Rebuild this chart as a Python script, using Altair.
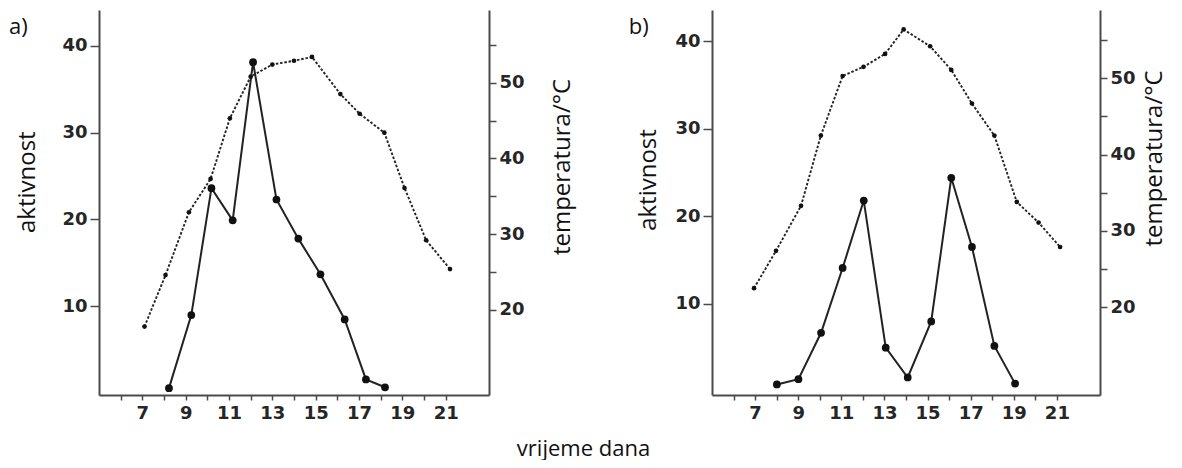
import altair as alt
import pandas as pd

# ---------------- data ----------------
# panel a)
a_act_hour = [8.23, 9.26, 10.19, 11.17, 12.11, 13.19, 14.2, 15.22, 16.34, 17.32, 18.2]
a_act_val = [0.6, 9.0, 23.6, 19.9, 38.1, 22.3, 17.8, 13.7, 8.5, 1.6, 0.7]
a_temp_hour = [7.1, 8.07, 9.15, 10.15, 11.04, 12.0, 13.0, 14.0, 14.83, 16.14, 17.03, 18.17, 19.1, 20.1, 21.2]
a_temp_val = [17.8, 24.6, 32.9, 37.3, 45.3, 50.8, 52.4, 52.9, 53.4, 48.5, 45.9, 43.4, 36.1, 29.2, 25.4]

# panel b)
b_act_hour = [8.01, 9.01, 10.06, 11.06, 12.04, 13.06, 14.08, 15.17, 16.1, 17.06, 18.1, 19.06]
b_act_val = [0.8, 1.4, 6.7, 14.1, 21.8, 5.0, 1.6, 8.0, 24.4, 16.5, 5.2, 0.9]
b_temp_hour = [6.95, 7.97, 9.13, 10.05, 11.06, 12.03, 13.03, 13.89, 15.12, 16.1, 17.06, 18.1, 19.14, 20.15, 21.15]
b_temp_val = [22.5, 27.4, 33.3, 42.5, 50.3, 51.5, 53.2, 56.4, 54.2, 51.1, 46.7, 42.5, 33.8, 31.1, 27.9]

x_ticks = list(range(6, 22))
left_ticks = [10, 20, 30, 40]
right_ticks = [20, 25, 30, 35, 40, 45, 50, 55]

LABEL_FONT = "DejaVu Sans"
TITLE_FONT = "Open Sans"
AXIS_COL = "#4a4a4a"
LINE_COL = "#222222"


def axis_common(label_size):
    return dict(
        grid=False,
        domainColor=AXIS_COL,
        domainWidth=2,
        tickColor=AXIS_COL,
        tickWidth=1.5,
        labelFont=LABEL_FONT,
        labelFontWeight="bold",
        labelFontSize=label_size,
        labelColor="#262626",
        labelOverlap=False,
        labelFlush=False,
        titleFont=TITLE_FONT,
        titleFontSize=24,
        titleFontWeight="normal",
        titleColor="#111111",
    )


def panel(act_h, act_v, temp_h, temp_v, width, height, yl_dom, yr_dom,
          letter, letter_x, letter_y, lt_x, lt_y, rt_x, rt_y):
    df_act = pd.DataFrame({"h": act_h, "v": act_v})
    df_temp = pd.DataFrame({"h": temp_h, "t": temp_v})

    x_enc = alt.X(
        "h:Q",
        scale=alt.Scale(domain=[5, 23], nice=False, zero=False),
        axis=alt.Axis(
            values=x_ticks,
            labelExpr="datum.value % 2 == 1 ? datum.label : ''",
            title=None,
            tickSize=5,
            labelPadding=4,
            **axis_common(18),
        ),
    )
    y_left = alt.Y(
        "v:Q",
        scale=alt.Scale(domain=yl_dom, nice=False, zero=False),
        axis=alt.Axis(
            orient="left",
            values=left_ticks,
            title="aktivnost",
            titleAngle=270,
            titleAlign="center",
            titleBaseline="bottom",
            titleX=lt_x,
            titleY=lt_y,
            tickSize=9,
            labelPadding=3,
            **axis_common(18),
        ),
    )
    y_right = alt.Y(
        "t:Q",
        scale=alt.Scale(domain=yr_dom, nice=False, zero=False),
        axis=alt.Axis(
            orient="right",
            values=right_ticks,
            labelExpr="datum.value % 10 == 0 ? datum.label : ''",
            title="temperatura/°C",
            titleAngle=270,
            titleAlign="center",
            titleBaseline="bottom",
            titleX=rt_x,
            titleY=rt_y,
            tickSize=7,
            labelPadding=3,
            **axis_common(18),
        ),
    )

    act = alt.layer(
        alt.Chart(df_act).mark_line(color=LINE_COL, strokeWidth=2).encode(x=x_enc, y=y_left),
        alt.Chart(df_act).mark_circle(color="#111111", size=60, opacity=1).encode(x=x_enc, y=y_left),
    )
    temp = alt.layer(
        alt.Chart(df_temp).mark_line(color=LINE_COL, strokeWidth=1.9, strokeDash=[2.5, 1.8]).encode(x=x_enc, y=y_right),
        alt.Chart(df_temp).mark_circle(color="#111111", size=22, opacity=1).encode(x=x_enc, y=y_right),
    )
    lab = alt.Chart(pd.DataFrame({"l": [letter]})).mark_text(
        font=TITLE_FONT, fontSize=22, color="#111111", align="left", baseline="alphabetic"
    ).encode(text="l:N", x=alt.value(letter_x), y=alt.value(letter_y))

    return alt.layer(act, temp, lab).resolve_scale(y="independent").properties(
        width=width, height=height
    )


pa = panel(a_act_hour, a_act_val, a_temp_hour, a_temp_val, 390, 385,
           [-0.19, 44.1], [8.77, 59.6], "a)", -90, 24.3, -60, 171.7, 85, 156.5)
pb = panel(b_act_hour, b_act_val, b_temp_hour, b_temp_val, 388, 385,
           [-0.4, 43.55], [8.51, 58.95], "b)", -83.3, 24, -52, 169.5, 66, 148)

chart = alt.hconcat(pa, pb, spacing=53).properties(
    padding={"left": 0, "top": 1, "right": 0, "bottom": 0},
    title=alt.TitleParams(
        text="vrijeme dana",
        orient="bottom",
        anchor="middle",
        font=TITLE_FONT,
        fontSize=22,
        fontWeight="normal",
        color="#111111",
        offset=16,
        dx=-4,
    ),
).configure_view(stroke="transparent")

chart.save("out.html", embed_options={"renderer": "svg", "actions": False})
